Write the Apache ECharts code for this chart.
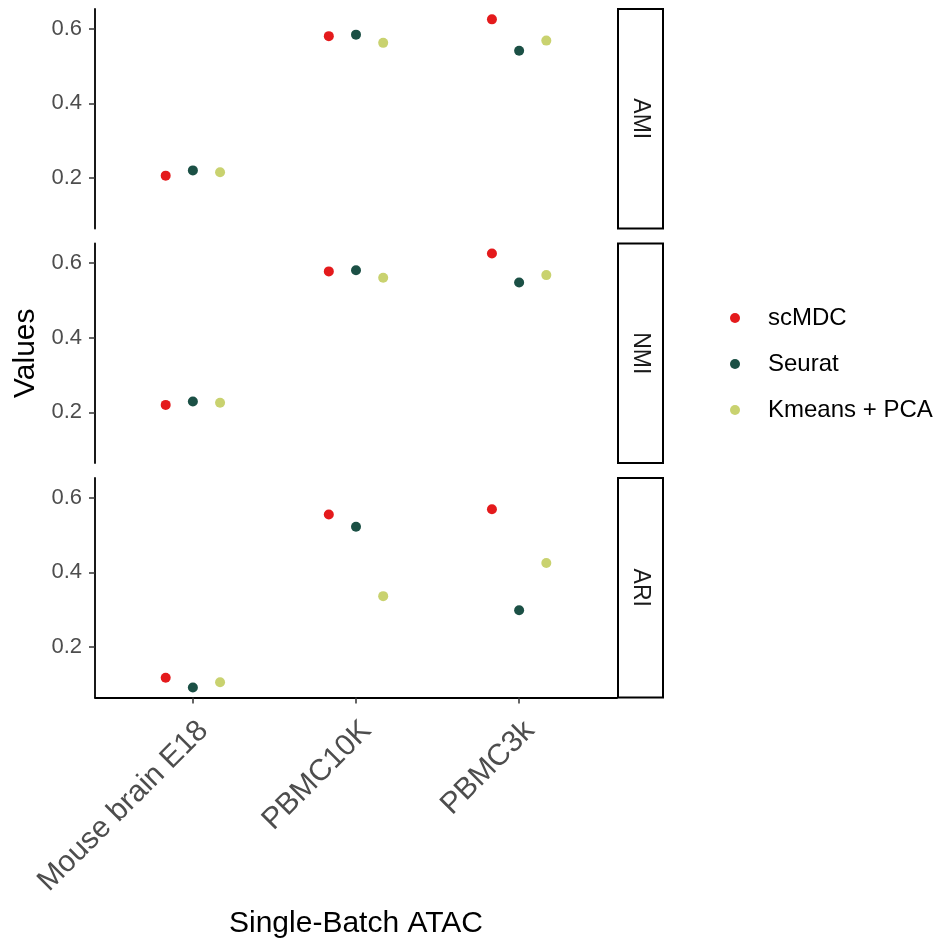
<!DOCTYPE html>
<html>
<head>
<meta charset="utf-8">
<script src="https://cdn.jsdelivr.net/npm/echarts@6/dist/echarts.min.js"></script>
<style>html,body{margin:0;padding:0;background:#fff}#c{width:935px;height:943px}</style>
</head>
<body>
<div id="c"></div>
<script>
// ---- data ----
const categories = ['Mouse brain E18', 'PBMC10K', 'PBMC3k'];
const metrics = ['AMI', 'NMI', 'ARI'];
const methods = ['scMDC', 'Seurat', 'Kmeans + PCA'];
const yTicks = [0.2, 0.4, 0.6];

const amiScMDC  = [0.206, 0.580, 0.625];
const amiSeurat = [0.220, 0.584, 0.541];
const amiKmeans = [0.215, 0.562, 0.568];

const nmiScMDC  = [0.220, 0.578, 0.626];
const nmiSeurat = [0.229, 0.581, 0.548];
const nmiKmeans = [0.226, 0.561, 0.568];

const ariScMDC  = [0.117, 0.555, 0.569];
const ariSeurat = [0.091, 0.522, 0.298];
const ariKmeans = [0.105, 0.336, 0.425];

const valuesByMetric = [
  [amiScMDC, amiSeurat, amiKmeans],
  [nmiScMDC, nmiSeurat, nmiKmeans],
  [ariScMDC, ariSeurat, ariKmeans]
];

// ---- styles ----
const colors = ['#E41A1C', '#1B5045', '#C9D26F'];
const FONT = '"Liberation Sans", Arial, sans-serif';
const dodge = 0.5 / 3; // position_dodge(width = 0.5)

const allVals = valuesByMetric.flat(2);
const vMin = Math.min(...allVals), vMax = Math.max(...allVals);
const pad = (vMax - vMin) * 0.05;
const yMin = vMin - pad, yMax = vMax + pad;

const gridLeft = 95, gridWidth = 522;
const gridTops = [9, 243.5, 478];
const gridH = 219.5;

const grids = [], xAxes = [], yAxes = [], series = [], graphics = [];

metrics.forEach((m, i) => {
  const isBottom = i === metrics.length - 1;
  grids.push({ left: gridLeft, top: gridTops[i], width: gridWidth, height: gridH, containLabel: false });
  xAxes.push({
    gridIndex: i, type: 'value', min: -0.6, max: 2.6,
    show: true,
    axisLine: { show: isBottom, onZero: false, lineStyle: { color: '#000', width: 1.8 } },
    axisTick: { show: isBottom, customValues: [0, 1, 2], length: 6, lineStyle: { color: '#333', width: 1.5 } },
    axisLabel: {
      show: isBottom, customValues: [0, 1, 2], rotate: 45, margin: 18,
      verticalAlign: 'top',
      formatter: v => categories[Math.round(v)] || '',
      fontFamily: FONT, fontSize: 30, color: '#4D4D4D'
    },
    splitLine: { show: false },
    name: isBottom ? 'Single-Batch ATAC' : '',
    nameLocation: 'middle', nameGap: 211,
    nameTextStyle: { fontFamily: FONT, fontSize: 30, color: '#000' }
  });
  yAxes.push({
    gridIndex: i, type: 'value', min: yMin, max: yMax,
    axisLine: { show: true, onZero: false, lineStyle: { color: '#000', width: 1.8 } },
    axisTick: { show: true, customValues: yTicks, length: 6, lineStyle: { color: '#333', width: 1.5 } },
    axisLabel: {
      customValues: yTicks, margin: 13,
      formatter: v => v.toFixed(1),
      fontFamily: FONT, fontSize: 22, color: '#4D4D4D'
    },
    splitLine: { show: false },
    name: i === 1 ? 'Values' : '',
    nameLocation: 'middle', nameGap: 52,
    nameTextStyle: { fontFamily: FONT, fontSize: 30, color: '#000' }
  });
  methods.forEach((meth, j) => {
    series.push({
      type: 'scatter', name: meth, xAxisIndex: i, yAxisIndex: i,
      symbol: 'circle', symbolSize: 10,
      itemStyle: { color: colors[j], opacity: 1 },
      data: valuesByMetric[i][j].map((v, k) => [k + (j - 1) * dodge, v]),
      silent: true
    });
  });
  graphics.push({
    type: 'rect',
    shape: { x: 618, y: gridTops[i], width: 45, height: gridH },
    style: { fill: '#fff', stroke: '#000', lineWidth: 2 }
  });
  graphics.push({
    type: 'text',
    x: 640.5, y: gridTops[i] + gridH / 2,
    rotation: -Math.PI / 2,
    style: { text: m, fontFamily: FONT, fontSize: 23, fill: '#1A1A1A', align: 'center', verticalAlign: 'middle' }
  });
});

const chart = echarts.init(document.getElementById('c'), null, { renderer: 'canvas' });
chart.setOption({
  animation: false,
  backgroundColor: '#fff',
  grid: grids,
  xAxis: xAxes,
  yAxis: yAxes,
  series: series,
  graphic: graphics,
  legend: {
    data: methods.map((m, j) => ({ name: m, itemStyle: { color: colors[j] } })),
    orient: 'vertical', left: 725, top: 301,
    icon: 'circle', itemWidth: 10, itemHeight: 10, itemGap: 22,
    textStyle: { fontFamily: FONT, fontSize: 24, color: '#000', lineHeight: 24, padding: [0, 0, 0, 23] },
    selectedMode: false
  }
});
</script>
</body>
</html>
